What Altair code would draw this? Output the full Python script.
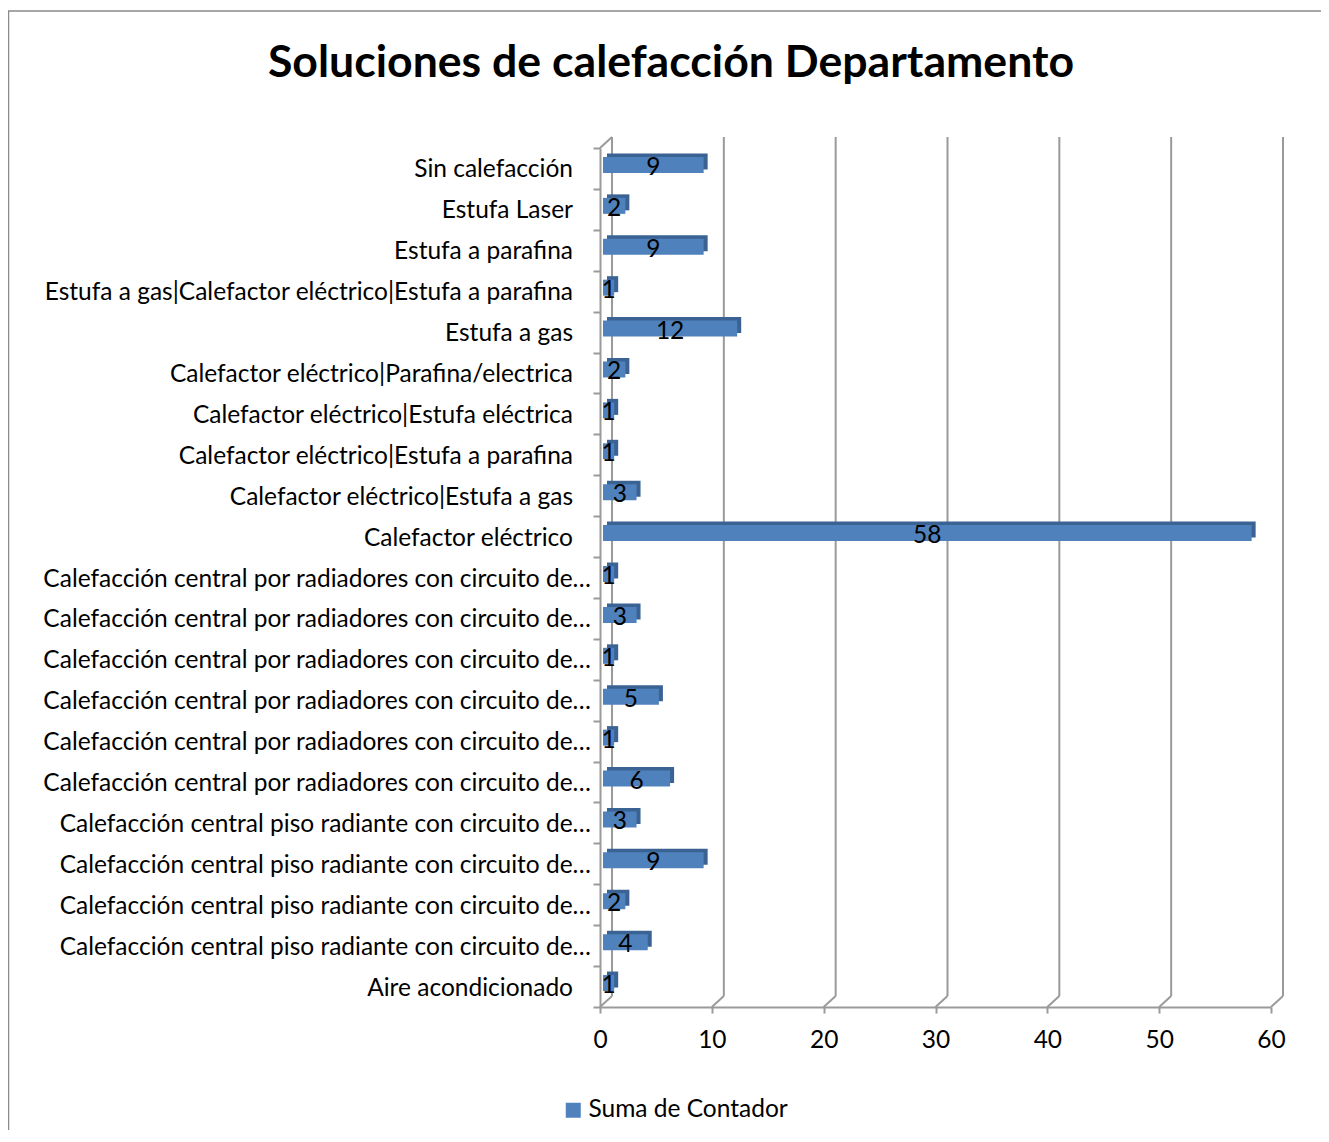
import altair as alt
import pandas as pd

# ---------------- data ----------------
categories = [
    "Sin calefacción",
    "Estufa Laser",
    "Estufa a parafina",
    "Estufa a gas|Calefactor eléctrico|Estufa a parafina",
    "Estufa a gas",
    "Calefactor eléctrico|Parafina/electrica",
    "Calefactor eléctrico|Estufa eléctrica",
    "Calefactor eléctrico|Estufa a parafina",
    "Calefactor eléctrico|Estufa a gas",
    "Calefactor eléctrico",
    "Calefacción central por radiadores con circuito de…",
    "Calefacción central por radiadores con circuito de…",
    "Calefacción central por radiadores con circuito de…",
    "Calefacción central por radiadores con circuito de…",
    "Calefacción central por radiadores con circuito de…",
    "Calefacción central por radiadores con circuito de…",
    "Calefacción central piso radiante con circuito de…",
    "Calefacción central piso radiante con circuito de…",
    "Calefacción central piso radiante con circuito de…",
    "Calefacción central piso radiante con circuito de…",
    "Aire acondicionado",
]
values = [9, 2, 9, 1, 12, 2, 1, 1, 3, 58, 1, 3, 1, 5, 1, 6, 3, 9, 2, 4, 1]
tick_values = [0, 10, 20, 30, 40, 50, 60]
series_name = "Suma de Contador"
title_text = "Soluciones de calefacción Departamento"

# ---------------- layout ----------------
W, H = 671, 859          # front plot area
DX, DY = 12, -11         # 3-D depth shift of the back wall
FONT = "Lato"
FS = 24.5
GRID = "#9a9a9a"
BAR = "#4f81bd"
BAR_DARK = "#3a6394"

df = pd.DataFrame({
    "id": [f"{i:02d}" for i in range(len(categories))],
    "label": categories,
    "value": values,
})
df["mid"] = df["value"] / 2
df["serie"] = series_name
ids = list(df["id"])
full_df = df[~df["label"].str.endswith("…")]
trunc_df = df[df["label"].str.endswith("…")]
grid_df = pd.DataFrame({"v": tick_values})

xs = alt.Scale(domain=[0, 60], nice=False, zero=True)
ys = alt.Scale(paddingInner=0, paddingOuter=0)

AX = alt.Axis(values=tick_values, title=None, grid=False, domain=True,
              domainColor=GRID, domainWidth=2, ticks=True, tickColor=GRID,
              tickWidth=2, tickSize=6, labelFont=FONT, labelFontSize=FS,
              labelColor="black", labelPadding=15, labelFlush=False,
              labelOverlap=False)
AY = alt.Axis(title=None, labels=False, grid=False, domain=True,
              domainColor=GRID, domainWidth=2, ticks=True, tickColor=GRID,
              tickWidth=2, tickSize=7, tickBand="extent")


def X(field):
    return alt.X(field, type="quantitative", scale=xs, axis=AX)


def Y():
    return alt.Y("id:O", sort=ids, scale=ys, axis=AY)


# chart border
border = alt.Chart(pd.DataFrame({"a": [0]})).mark_rect(
    fill=None, stroke="#8a8a8a", strokeWidth=1.5
).encode(x=alt.value(-591.5), x2=alt.value(900), y=alt.value(-137), y2=alt.value(1200))

# back wall vertical gridlines
back = alt.Chart(grid_df).mark_rule(color=GRID, strokeWidth=2, xOffset=DX).encode(
    x=X("v"), y=alt.value(DY), y2=alt.value(H + DY)
)
# floor diagonals
diag = alt.Chart(grid_df).mark_rule(color=GRID, strokeWidth=2, x2Offset=DX).encode(
    x=X("v"), x2=alt.X2("v"), y=alt.value(H), y2=alt.value(H + DY)
)
# left wall top diagonal
topdiag = alt.Chart(pd.DataFrame({"a": [0]})).mark_rule(color=GRID, strokeWidth=2).encode(
    x=alt.value(0), x2=alt.value(DX), y=alt.value(0), y2=alt.value(DY)
)

# bar depth (top/right faces)
depth = alt.Chart(df).mark_bar(
    color=BAR_DARK, height=16, xOffset=7, x2Offset=7, yOffset=-7, y2Offset=-7
).encode(x=X("value"), y=Y())

bars = alt.Chart(df).mark_bar(
    height=16, xOffset=3, x2Offset=3, yOffset=-3.5, y2Offset=-3.5, opacity=1
).encode(
    x=X("value"), y=Y(),
    color=alt.Color("serie:N", scale=alt.Scale(range=[BAR]),
                    legend=alt.Legend(orient="none", legendX=-39, legendY=950,
                                      title=None, symbolType="square",
                                      symbolSize=225, symbolStrokeWidth=0,
                                      labelFont=FONT, labelFontSize=FS,
                                      labelColor="black", labelOffset=3,
                                      labelLimit=0)),
)

vals = alt.Chart(df).mark_text(
    font=FONT, fontSize=FS, color="black", baseline="middle", dx=3, dy=-0.5
).encode(x=X("mid"), y=Y(), text="value:Q")

lab_full = alt.Chart(full_df).mark_text(
    font=FONT, fontSize=FS, color="black", align="right", baseline="middle", dy=2
).encode(x=alt.value(-27), y=Y(), text="label:N")

lab_trunc = alt.Chart(trunc_df).mark_text(
    font=FONT, fontSize=FS, color="black", align="right", baseline="middle", dy=2
).encode(x=alt.value(-9), y=Y(), text="label:N")

title = alt.Chart(pd.DataFrame({"t": [title_text]})).mark_text(
    font=FONT, fontSize=44.6, fontWeight="bold", color="black", align="center",
    baseline="middle"
).encode(x=alt.value(71), y=alt.value(-84), text="t:N")

chart = alt.layer(
    border, back, diag, topdiag, depth, bars, vals, lab_full, lab_trunc, title
).properties(
    width=W, height=H,
    padding={"left": 592, "top": 140, "right": 50, "bottom": 123},
    autosize=alt.AutoSizeParams(type="none"),
    background="white",
).configure_view(stroke=None)

chart.save("out.html", embed_options={"renderer": "svg", "actions": False})
